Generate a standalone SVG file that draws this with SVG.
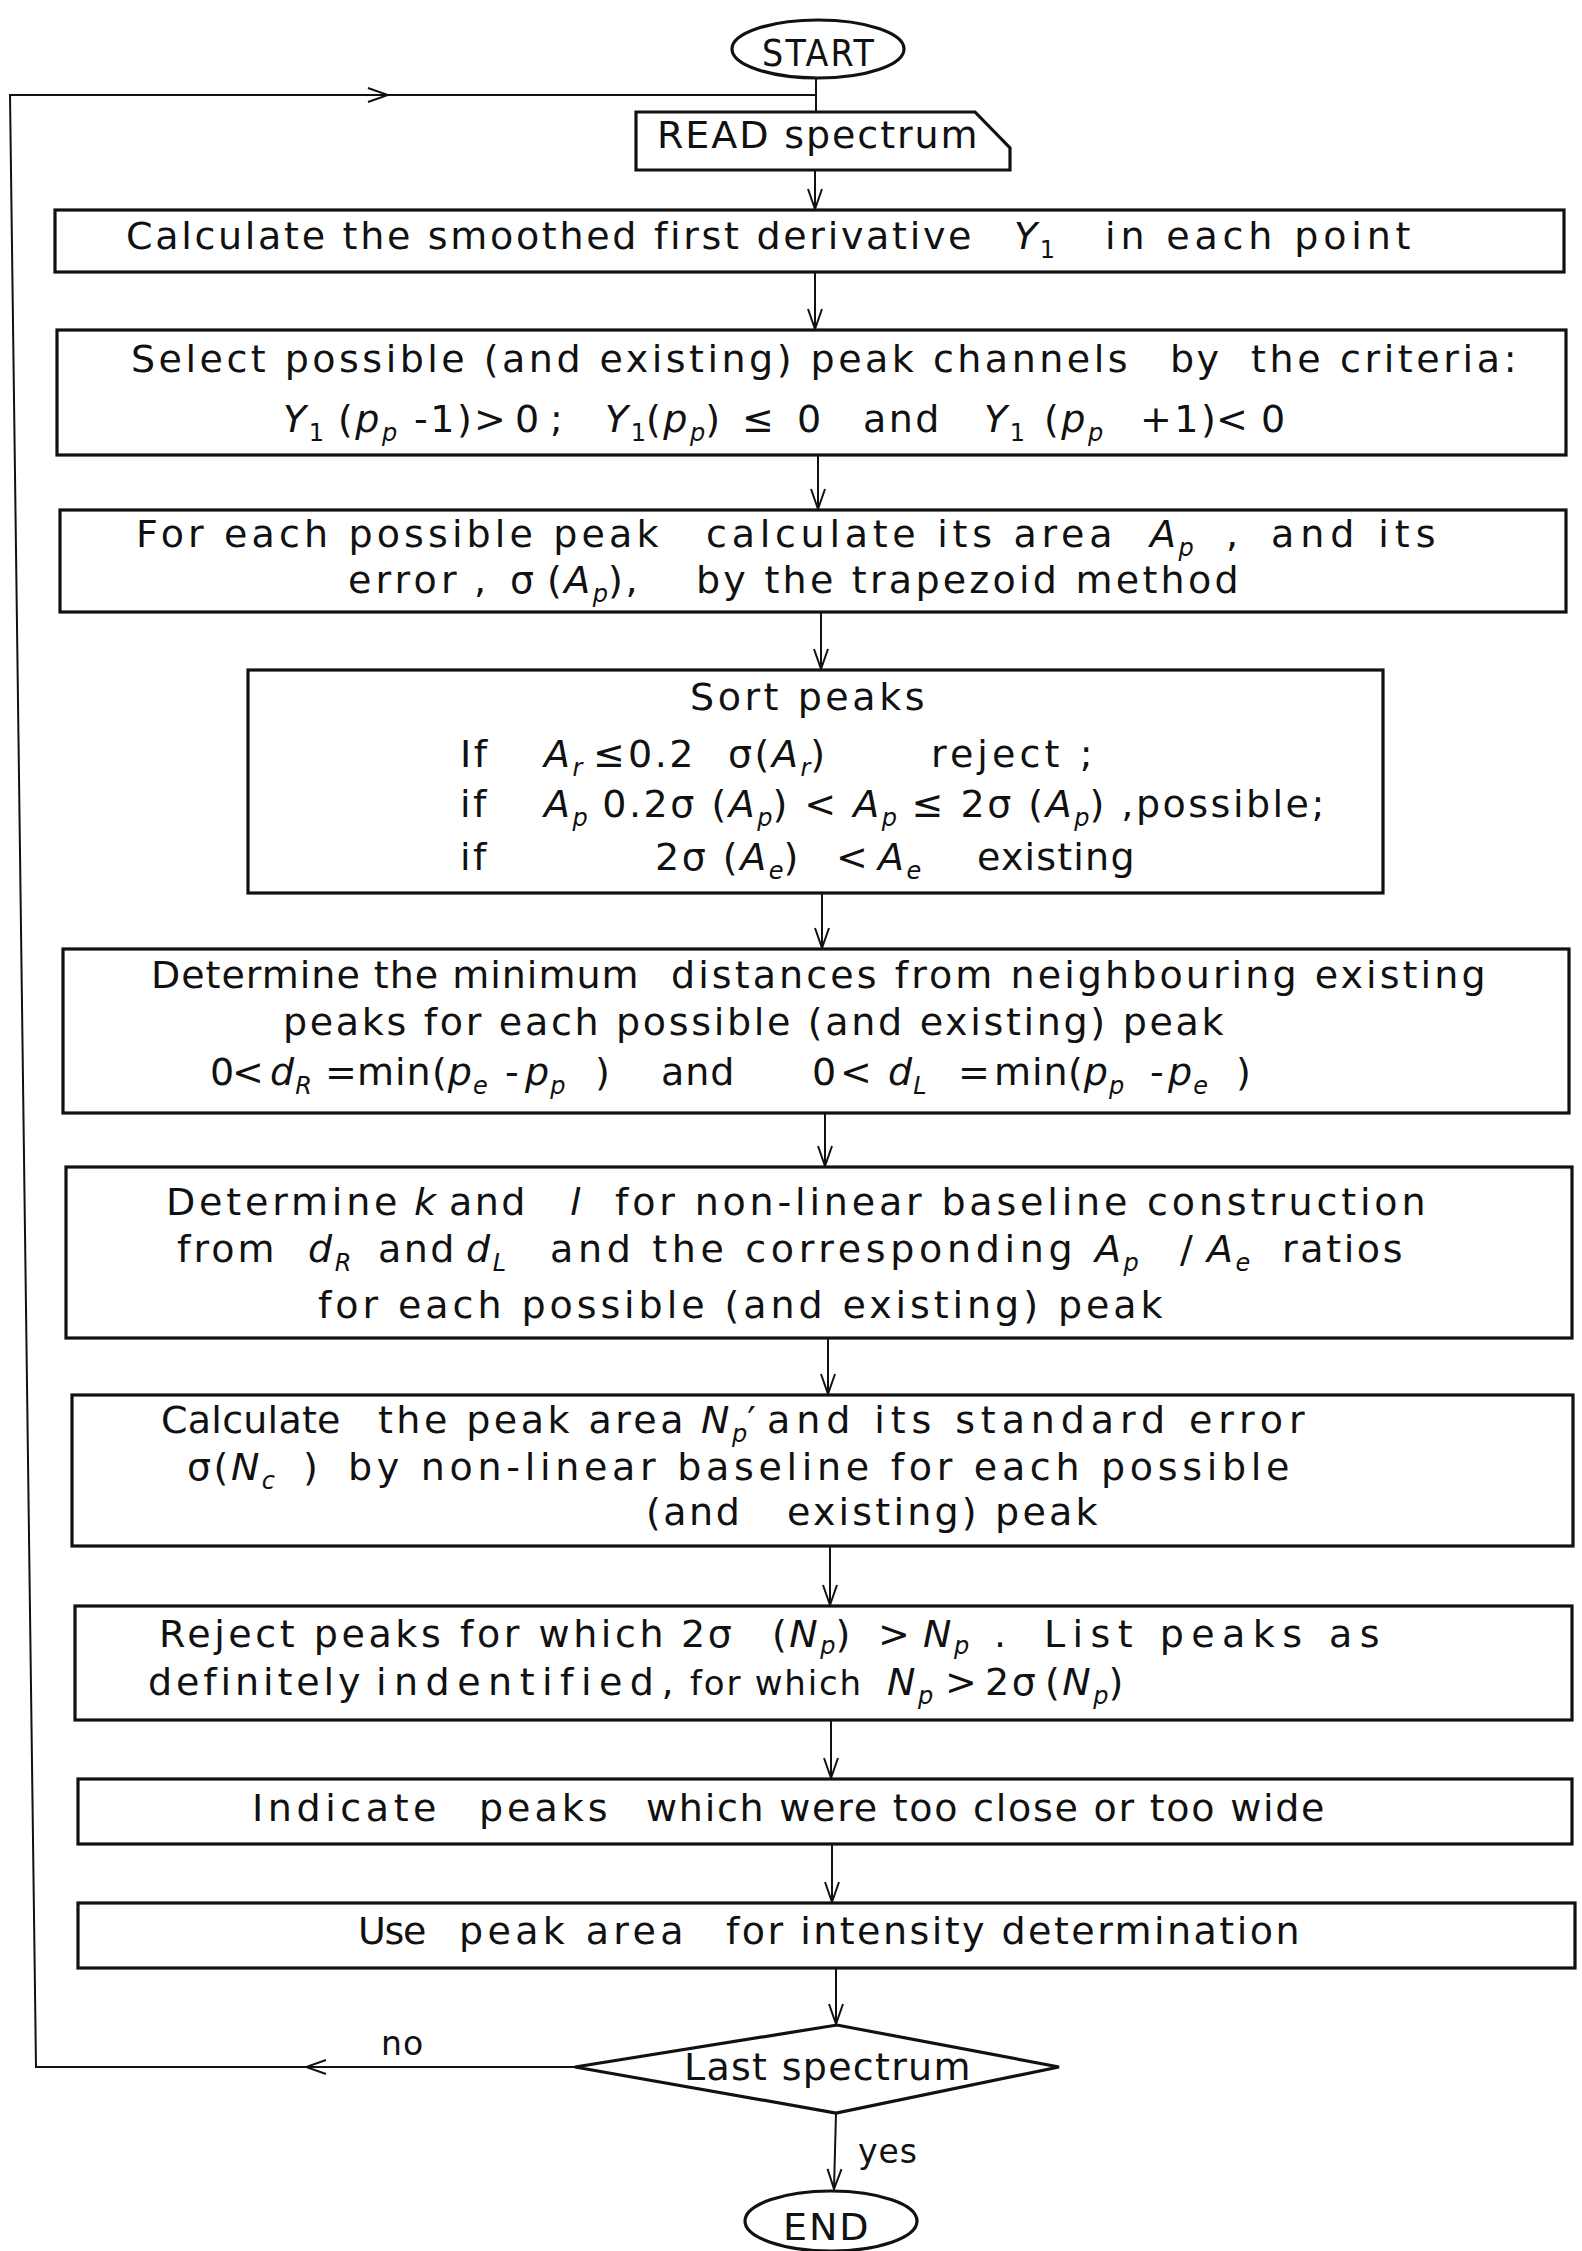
<svg xmlns="http://www.w3.org/2000/svg" width="1582" height="2251" viewBox="0 0 1582 2251">
<defs>
<style>
.bx{fill:none;stroke:#111;stroke-width:3.2}
.cn{fill:none;stroke:#111;stroke-width:2}
.t{font-family:"DejaVu Sans","Liberation Sans",sans-serif;font-size:38px;fill:#111;letter-spacing:2.5px}
.m{letter-spacing:1px}
.i{font-style:italic}
.s{font-size:24px;letter-spacing:0}
.lb{font-family:"DejaVu Sans","Liberation Sans",sans-serif;font-size:33px;fill:#111;letter-spacing:1px}
</style>
<marker id="arr" viewBox="-22 -10 24 20" refX="0" refY="0" markerWidth="24" markerHeight="20" markerUnits="userSpaceOnUse" orient="auto">
<path d="M-20,-7 L0,0 L-20,7" fill="none" stroke="#111" stroke-width="2"/>
</marker>
</defs>
<rect width="1582" height="2251" fill="#fff"/>

<g id="connectors">
<path class="cn" d="M816,78 L816,112"/>
<path class="cn" d="M575,2067 L306,2067" marker-end="url(#arr)"/>
<path class="cn" d="M306,2067 L36,2067 L10,95 L388,95" marker-end="url(#arr)"/>
<path class="cn" d="M388,95 L816,95"/>
<path class="cn" d="M815,170 L815,209" marker-end="url(#arr)"/>
<path class="cn" d="M815,272 L815,329" marker-end="url(#arr)"/>
<path class="cn" d="M818,455 L818,509" marker-end="url(#arr)"/>
<path class="cn" d="M821,612 L821,669" marker-end="url(#arr)"/>
<path class="cn" d="M822,893 L822,948" marker-end="url(#arr)"/>
<path class="cn" d="M825,1113 L825,1166" marker-end="url(#arr)"/>
<path class="cn" d="M828,1338 L828,1394" marker-end="url(#arr)"/>
<path class="cn" d="M830,1546 L830,1605" marker-end="url(#arr)"/>
<path class="cn" d="M831,1720 L831,1778" marker-end="url(#arr)"/>
<path class="cn" d="M832,1844 L832,1902" marker-end="url(#arr)"/>
<path class="cn" d="M836,1968 L836,2024" marker-end="url(#arr)"/>
<path class="cn" d="M836,2113 L834,2189" marker-end="url(#arr)"/>
<text class="lb" x="381" y="2055">no</text>
<text class="lb" x="858" y="2163">yes</text>
</g>

<g id="start">
<ellipse class="bx" cx="818" cy="49" rx="86" ry="29"/>
<text class="t" x="762" y="66" textLength="114" lengthAdjust="spacingAndGlyphs">START</text>
</g>

<g id="read">
<path class="bx" d="M636,112 L975,112 L1010,148 L1010,170 L636,170 Z"/>
<text class="t" x="657" y="148" textLength="323" lengthAdjust="spacing">READ spectrum</text>
</g>

<g id="derivative">
<rect class="bx" x="55" y="210" width="1509" height="62"/>
<text class="t" x="126" y="249" textLength="848" lengthAdjust="spacing">Calculate the smoothed first derivative</text>
<text class="t" y="249"><tspan x="1014" class="i">Y</tspan><tspan class="s" dy="9">1</tspan></text>
<text class="t" x="1105" y="249" textLength="308" lengthAdjust="spacing">in each point</text>
</g>

<g id="select">
<rect class="bx" x="57" y="330" width="1509" height="125"/>
<text class="t" x="131" y="372" textLength="999" lengthAdjust="spacing">Select possible (and existing) peak channels</text>
<text class="t" x="1170" y="372">by</text>
<text class="t" x="1251" y="372" textLength="268" lengthAdjust="spacing">the criteria:</text>
<text class="t" y="432"><tspan x="283" class="i">Y</tspan><tspan class="s" dy="9">1</tspan><tspan x="338" dy="-9">(</tspan><tspan class="i">p</tspan><tspan class="s i" dy="9">p</tspan><tspan x="414" dy="-9">-1)</tspan><tspan x="474">&gt;</tspan><tspan x="515">0</tspan><tspan x="550">;</tspan><tspan x="605" class="i">Y</tspan><tspan class="s" dy="9">1</tspan><tspan x="646" dy="-9">(</tspan><tspan class="i">p</tspan><tspan class="s i" dy="9">p</tspan><tspan dy="-9">)</tspan><tspan x="742">≤</tspan><tspan x="797">0</tspan><tspan x="863">and</tspan><tspan x="984" class="i">Y</tspan><tspan class="s" dy="9">1</tspan><tspan x="1044" dy="-9">(</tspan><tspan class="i">p</tspan><tspan class="s i" dy="9">p</tspan><tspan x="1140" dy="-9">+1)</tspan><tspan x="1216">&lt;</tspan><tspan x="1261">0</tspan></text>
</g>

<g id="area">
<rect class="bx" x="60" y="510" width="1506" height="102"/>
<text class="t" x="136" y="547" textLength="525" lengthAdjust="spacing">For each possible peak</text>
<text class="t" x="706" y="547" textLength="409" lengthAdjust="spacing">calculate its area</text>
<text class="t" y="547"><tspan x="1150" class="i">A</tspan><tspan class="s i" dy="9">p</tspan><tspan x="1226" dy="-9">,</tspan></text>
<text class="t" x="1271" y="547" textLength="167" lengthAdjust="spacing">and its</text>
<text class="t" x="348" y="593" textLength="111" lengthAdjust="spacing">error</text>
<text class="t" y="593"><tspan x="474">,</tspan><tspan x="510">σ</tspan><tspan x="547">(</tspan><tspan class="i">A</tspan><tspan class="s i" dy="9">p</tspan><tspan dy="-9">),</tspan></text>
<text class="t" x="696" y="593" textLength="545" lengthAdjust="spacing">by the trapezoid method</text>
</g>

<g id="sort">
<rect class="bx" x="248" y="670" width="1135" height="223"/>
<text class="t" x="690" y="710" textLength="237" lengthAdjust="spacing">Sort peaks</text>
<text class="t" y="767"><tspan x="460">If</tspan><tspan x="544" class="i">A</tspan><tspan class="s i" dy="9">r</tspan><tspan x="593" dy="-9">≤</tspan><tspan x="628">0.2</tspan><tspan x="728">σ(</tspan><tspan class="i">A</tspan><tspan class="s i" dy="9">r</tspan><tspan dy="-9">)</tspan></text>
<text class="t" x="931" y="767" textLength="164" lengthAdjust="spacing">reject ;</text>
<text class="t" y="817"><tspan x="460">if</tspan><tspan x="544" class="i">A</tspan><tspan class="s i" dy="9">p</tspan><tspan dy="-9"> 0.2σ (</tspan><tspan class="i">A</tspan><tspan class="s i" dy="9">p</tspan><tspan dy="-9">) &lt; </tspan><tspan class="i">A</tspan><tspan class="s i" dy="9">p</tspan><tspan dy="-9"> ≤ 2σ (</tspan><tspan class="i">A</tspan><tspan class="s i" dy="9">p</tspan><tspan dy="-9">) ,possible;</tspan></text>
<text class="t" y="870"><tspan x="460">if</tspan><tspan x="655">2σ (</tspan><tspan class="i">A</tspan><tspan class="s i" dy="9">e</tspan><tspan dy="-9">)</tspan><tspan x="836">&lt;</tspan><tspan x="878" class="i">A</tspan><tspan class="s i" dy="9">e</tspan></text>
<text class="t" x="977" y="870" textLength="160" lengthAdjust="spacing">existing</text>
</g>

<g id="distances">
<rect class="bx" x="63" y="949" width="1506" height="164"/>
<text class="t" x="151" y="988" textLength="490" lengthAdjust="spacing">Determine the minimum</text>
<text class="t" x="671" y="988" textLength="817" lengthAdjust="spacing">distances from neighbouring existing</text>
<text class="t" x="283" y="1035" textLength="943" lengthAdjust="spacing">peaks for each possible (and existing) peak</text>
<text class="t m" y="1085"><tspan x="210">0</tspan><tspan x="232">&lt;</tspan><tspan x="270" class="i">d</tspan><tspan class="s i" dy="9">R</tspan><tspan x="325" dy="-9">=</tspan><tspan x="357">min</tspan><tspan x="432">(</tspan><tspan class="i">p</tspan><tspan class="s i" dy="9">e</tspan><tspan x="505" dy="-9">-</tspan><tspan x="525" class="i">p</tspan><tspan class="s i" dy="9">p</tspan><tspan x="595" dy="-9">)</tspan><tspan x="661">and</tspan><tspan x="812">0</tspan><tspan x="840">&lt;</tspan><tspan x="888" class="i">d</tspan><tspan class="s i" dy="9">L</tspan><tspan x="958" dy="-9">=</tspan><tspan x="994">min</tspan><tspan x="1068">(</tspan><tspan class="i">p</tspan><tspan class="s i" dy="9">p</tspan><tspan x="1150" dy="-9">-</tspan><tspan x="1168" class="i">p</tspan><tspan class="s i" dy="9">e</tspan><tspan x="1236" dy="-9">)</tspan></text>
</g>

<g id="baseline">
<rect class="bx" x="66" y="1167" width="1506" height="171"/>
<text class="t" x="166" y="1215" textLength="234" lengthAdjust="spacing">Determine</text>
<text class="t" y="1215"><tspan x="414" class="i">k</tspan><tspan x="449">and</tspan><tspan x="570" class="i">l</tspan></text>
<text class="t" x="615" y="1215" textLength="813" lengthAdjust="spacing">for non-linear baseline construction</text>
<text class="t" x="177" y="1262" textLength="100" lengthAdjust="spacing">from</text>
<text class="t" y="1262"><tspan x="308" class="i">d</tspan><tspan class="s i" dy="9">R</tspan><tspan x="378" dy="-9">and</tspan><tspan x="466" class="i">d</tspan><tspan class="s i" dy="9">L</tspan></text>
<text class="t" x="550" y="1262" textLength="525" lengthAdjust="spacing">and the corresponding</text>
<text class="t" y="1262"><tspan x="1095" class="i">A</tspan><tspan class="s i" dy="9">p</tspan><tspan x="1180" dy="-9">/</tspan><tspan x="1207" class="i">A</tspan><tspan class="s i" dy="9">e</tspan></text>
<text class="t" x="1282" y="1262" textLength="123" lengthAdjust="spacing">ratios</text>
<text class="t" x="318" y="1318" textLength="847" lengthAdjust="spacing">for each possible (and existing) peak</text>
</g>

<g id="nonlinear">
<rect class="bx" x="72" y="1395" width="1501" height="151"/>
<text class="t" x="161" y="1433" textLength="182" lengthAdjust="spacing">Calculate</text>
<text class="t" x="378" y="1433" textLength="308" lengthAdjust="spacing">the peak area</text>
<text class="t" y="1433"><tspan x="701" class="i">N</tspan><tspan class="s i" dy="9">p</tspan><tspan dy="-9">′</tspan></text>
<text class="t" x="767" y="1433" textLength="540" lengthAdjust="spacing">and its standard error</text>
<text class="t" y="1480"><tspan x="187">σ(</tspan><tspan class="i">N</tspan><tspan class="s i" dy="9">c</tspan><tspan x="303" dy="-9">)</tspan></text>
<text class="t" x="348" y="1480" textLength="944" lengthAdjust="spacing">by non-linear baseline for each possible</text>
<text class="t" x="646" y="1525">(and</text>
<text class="t" x="787" y="1525" textLength="313" lengthAdjust="spacing">existing) peak</text>
</g>

<g id="reject">
<rect class="bx" x="75" y="1606" width="1497" height="114"/>
<text class="t" x="159" y="1647" textLength="507" lengthAdjust="spacing">Reject peaks for which</text>
<text class="t" y="1647"><tspan x="681">2σ</tspan><tspan x="772">(</tspan><tspan class="i">N</tspan><tspan class="s i" dy="7">p</tspan><tspan dy="-7">)</tspan><tspan x="878">&gt;</tspan><tspan x="923" class="i">N</tspan><tspan class="s i" dy="7">p</tspan><tspan x="994" dy="-7">.</tspan></text>
<text class="t" x="1044" y="1647" textLength="338" lengthAdjust="spacing">List peaks as</text>
<text class="t" x="148" y="1695" textLength="215" lengthAdjust="spacing">definitely</text>
<text class="t" x="376" y="1695" textLength="300" lengthAdjust="spacing">indentified,</text>
<text class="t" x="690" y="1695" style="font-size:34px;letter-spacing:1px" textLength="172" lengthAdjust="spacing">for which</text>
<text class="t" y="1695"><tspan x="887" class="i">N</tspan><tspan class="s i" dy="9">p</tspan><tspan x="945" dy="-9">&gt;</tspan><tspan x="985">2σ</tspan><tspan x="1045">(</tspan><tspan class="i">N</tspan><tspan class="s i" dy="9">p</tspan><tspan dy="-9">)</tspan></text>
</g>

<g id="indicate">
<rect class="bx" x="78" y="1779" width="1494" height="65"/>
<text class="t" x="252" y="1821" textLength="187" lengthAdjust="spacing">Indicate</text>
<text class="t" x="479" y="1821" textLength="131" lengthAdjust="spacing">peaks</text>
<text class="t" x="646" y="1821" textLength="681" lengthAdjust="spacing">which were too close or too wide</text>
</g>

<g id="use">
<rect class="bx" x="78" y="1903" width="1497" height="65"/>
<text class="t" x="358" y="1944" textLength="71" lengthAdjust="spacing">Use</text>
<text class="t" x="459" y="1944" textLength="227" lengthAdjust="spacing">peak area</text>
<text class="t" x="726" y="1944" textLength="576" lengthAdjust="spacing">for intensity determination</text>
</g>

<g id="decision">
<polygon class="bx" points="575,2067 837,2025 1059,2067 836,2113"/>
<text class="t" x="684" y="2080" textLength="289" lengthAdjust="spacing">Last spectrum</text>
</g>

<g id="end">
<ellipse class="bx" cx="831" cy="2221" rx="86" ry="30"/>
<text class="t" x="783" y="2240" textLength="88" lengthAdjust="spacing">END</text>
</g>
</svg>
